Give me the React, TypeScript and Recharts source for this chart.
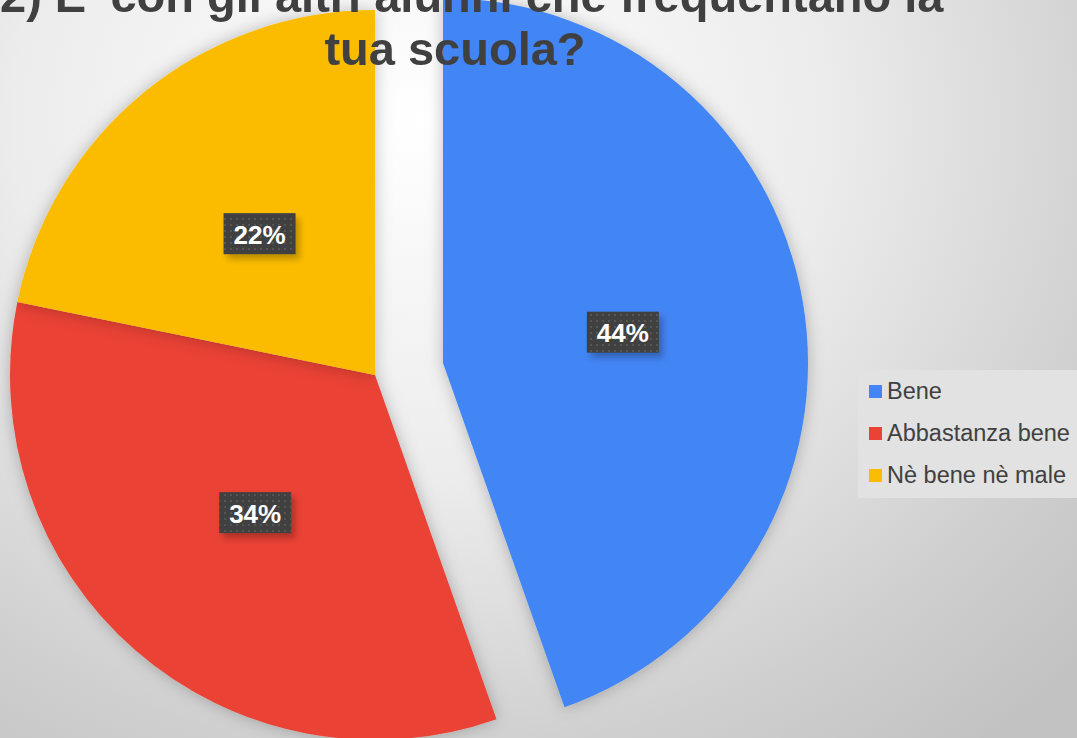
import * as React from "react";
import { PieChart, Pie, Cell, Legend } from "recharts";

const categories = ["Bene", "Abbastanza bene", "Nè bene nè male"];
const shares = [44.6, 33.6, 21.8];
// percentages as printed on the slices
const shareLabels = ["44%", "34%", "22%"];
const colors = ["#4285F4", "#EA4335", "#FBBC04"];
const titleLines = ["2) E' con gli altri alunni che frequentano la", "tua scuola?"];

const data = categories.map((name, i) => ({ name, value: shares[i], label: shareLabels[i] }));

const RAD = Math.PI / 180;

// label drawn inside the slice, dark box with white bold text
function makeLabel(visibleIndex: number[]) {
  return (props: any) => {
    const { cx, cy, midAngle, outerRadius, index } = props;
    if (!visibleIndex.includes(index)) return null;
    const r = outerRadius * 0.5;
    const x = cx + r * Math.cos(-midAngle * RAD);
    const y = cy + r * Math.sin(-midAngle * RAD);
    const w = 72;
    const h = 41;
    return (
      <g>
        <rect x={x - w / 2 + 4} y={y - h / 2 + 5} width={w} height={h} fill="rgba(0,0,0,0.25)" filter="url(#blur)" />
        <rect x={x - w / 2} y={y - h / 2} width={w} height={h} fill="#404040" />
        <rect x={x - w / 2} y={y - h / 2} width={w} height={h} fill="url(#dots)" />
        <text
          x={x}
          y={y + 1}
          textAnchor="middle"
          dominantBaseline="central"
          fill="#ffffff"
          fontSize={26}
          fontWeight="bold"
          fontFamily="'Liberation Sans', Arial, sans-serif"
        >
          {data[index].label}
        </text>
      </g>
    );
  };
}

function LegendBox() {
  return (
    <div
      style={{
        background: "#e2e2e2",
        padding: "0 10px 2px 11px",
        fontFamily: "'Liberation Sans', Arial, sans-serif",
        fontSize: 23.5,
        color: "#404040",
        width: 240,
      }}
    >
      {categories.map((c, i) => (
        <div key={c} style={{ display: "flex", alignItems: "center", height: 42 }}>
          <span style={{ width: 13, height: 13, background: colors[i], marginRight: 5 }} />
          <span>{c}</span>
        </div>
      ))}
    </div>
  );
}

export default function App() {
  return (
    <div
      style={{
        position: "fixed",
        left: 0,
        top: 0,
        width: 1077,
        height: 738,
        overflow: "hidden",
        background: "radial-gradient(ellipse 900px 800px at 420px 120px, #ffffff 0%, #ececec 45%, #cfcfcf 80%, #c2c2c2 100%)",
      }}
    >
      <PieChart
        width={1077}
        height={738}
        margin={{ top: 0, right: 0, bottom: 0, left: 0 }}
        style={{ position: "absolute", left: 0, top: 0 }}
      >
        <defs>
          <filter id="blur" x="-20%" y="-20%" width="140%" height="140%">
            <feGaussianBlur stdDeviation="3" />
          </filter>
          <filter id="pieShadow" x="-20%" y="-20%" width="140%" height="140%">
            <feDropShadow dx="0" dy="0" stdDeviation="8" floodColor="#000" floodOpacity="0.25" />
          </filter>
          <pattern id="dots" width="6" height="6" patternUnits="userSpaceOnUse">
            <rect x="2" y="2" width="2" height="2" fill="#555555" />
          </pattern>
        </defs>
        {/* main pie: red + yellow */}
        <Pie
          data={data}
          dataKey="value"
          nameKey="name"
          cx={375}
          cy={375}
          outerRadius={365}
          startAngle={90}
          endAngle={-270}
          stroke="none"
          isAnimationActive={false}
          labelLine={false}
          label={makeLabel([1, 2])}
          style={{ filter: "url(#pieShadow)" }}
        >
          {data.map((d, i) => (
            <Cell key={d.name} fill={i === 0 ? "transparent" : colors[i]} />
          ))}
        </Pie>
        {/* exploded slice: Bene */}
        <Pie
          data={data}
          dataKey="value"
          nameKey="name"
          cx={443}
          cy={363}
          outerRadius={365}
          startAngle={90}
          endAngle={-270}
          stroke="none"
          isAnimationActive={false}
          labelLine={false}
          label={makeLabel([0])}
          legendType="none"
          style={{ filter: "url(#pieShadow)" }}
        >
          {data.map((d, i) => (
            <Cell key={d.name} fill={i === 0 ? colors[i] : "transparent"} />
          ))}
        </Pie>
        <Legend
          layout="vertical"
          align="right"
          verticalAlign="top"
          content={() => <LegendBox />}
          wrapperStyle={{ left: 858, top: 370, width: 240 }}
        />
      </PieChart>
      <div
        style={{
          position: "absolute",
          left: 0,
          top: -31,
          width: 910,
          textAlign: "center",
          fontFamily: "'Liberation Sans', Arial, sans-serif",
          fontWeight: "bold",
          fontSize: 47,
          lineHeight: "53px",
          color: "#404040",
          pointerEvents: "none",
          whiteSpace: "nowrap",
        }}
      >
        {titleLines.map((t) => (
          <div key={t}>{t}</div>
        ))}
      </div>
    </div>
  );
}
